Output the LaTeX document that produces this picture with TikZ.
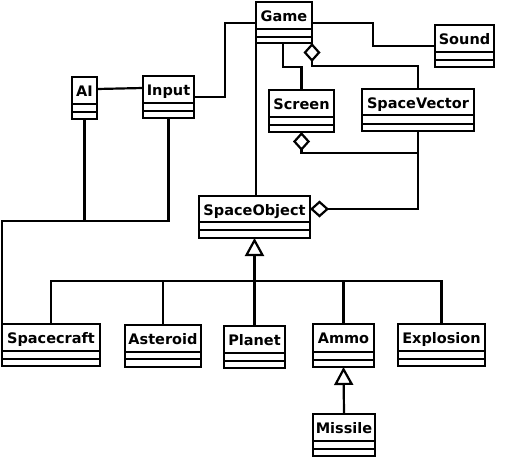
\documentclass[tikz,border=0pt]{standalone}
\usepackage{fontspec}
\setmainfont{DejaVu Sans}
\usetikzlibrary{arrows.meta,fit,calc}
\tikzset{
  boxline/.style={line width=2.6pt},
  conn/.style={line width=2.2pt},
  agg/.style={conn,-{Diamond[open,length=19pt,width=17pt,line width=2.2pt]}},
  gen/.style={conn,-{Triangle[open,length=18pt,width=19pt,line width=2.2pt]}},
  clsname/.style={font=\fontsize{14.5}{14.5}\selectfont\bfseries,anchor=base,inner sep=0pt}
}
\newcommand\umlclass[8]{%
  \node[fit={(#2,#3)(#4,#5)},inner sep=0pt,outer sep=0pt,draw,boxline] (#1) {};
  \draw[boxline] (#2,#6) -- (#4,#6);
  \draw[boxline] (#2,#7) -- (#4,#7);
  \node[clsname] (#1-label) at ({(#2+#4)/2},{#3+19.5}) {#8};
}
\begin{document}
\begin{tikzpicture}[x=1pt,y=-1pt,line join=miter]
\useasboundingbox (0,0) rectangle (505,458);
\umlclass{Game}{256}{2}{312}{43}{29}{37}{Game}
\umlclass{Sound}{435}{25}{494}{67}{52}{60}{Sound}
\umlclass{Screen}{269}{90}{334}{132}{117}{125}{Screen}
\umlclass{SpaceVector}{362}{89}{474}{131}{115}{124}{SpaceVector}
\umlclass{SpaceObject}{199}{196}{310}{238}{222}{230}{SpaceObject}
\umlclass{AI}{72}{77}{97}{119}{104}{112}{AI}
\umlclass{Input}{143}{76}{194}{118}{103}{111}{Input}
\umlclass{Spacecraft}{2}{324}{100}{366}{351}{359}{Spacecraft}
\umlclass{Asteroid}{125}{325}{201}{367}{352}{359}{Asteroid}
\umlclass{Planet}{224}{326}{285}{368}{353}{361}{Planet}
\umlclass{Ammo}{313}{324}{374}{367}{352}{360}{Ammo}
\umlclass{Explosion}{398}{324}{485}{366}{351}{359}{Explosion}
\umlclass{Missile}{313}{414}{375}{456}{441}{449}{Missile}

% associations
\draw[conn] ([yshift=-12pt]AI.north east) -- ([yshift=-12pt]Input.north west);
\draw[conn] ([yshift=-21pt]Input.north east) -| (225,23) -- ([yshift=-21pt]Game.north west);
\draw[conn] ([yshift=-21pt]Game.north east) -| (373,46) -- ([yshift=-21pt]Sound.north west);
\draw[conn] ([xshift=-1pt]Game.south) |- (Screen.north |- 0,67) -- (Screen.north);
\draw[conn,line width=1.8pt] (Game.south west) -- (Game.south west |- SpaceObject.north);
\draw[conn] (AI.south) -- (AI.south |- 0,221);
\draw[conn] (Input.south) |- (Spacecraft.north west |- 0,221) -- (Spacecraft.north west);

% aggregations
\draw[agg] (SpaceVector.north) |- (Game.south east |- 0,66) -- (Game.south east);
\draw[agg] (SpaceVector.south |- 0,153) -| (Screen.south);
\draw[agg] (SpaceVector.south) |- ([yshift=-13pt]SpaceObject.north east);

% generalizations
\draw[gen,line width=3pt] (Planet.north) -- (SpaceObject.south);
\draw[conn] (Spacecraft.north) -- (Spacecraft.north |- 0,281) -- (Explosion.north |- 0,281) -- (Explosion.north);
\draw[conn] (Asteroid.north) -- (Asteroid.north |- 0,281);
\draw[conn] (Ammo.north) -- (Ammo.north |- 0,281);
\draw[gen] (Missile.north) -- (Ammo.south);
\end{tikzpicture}
\end{document}
